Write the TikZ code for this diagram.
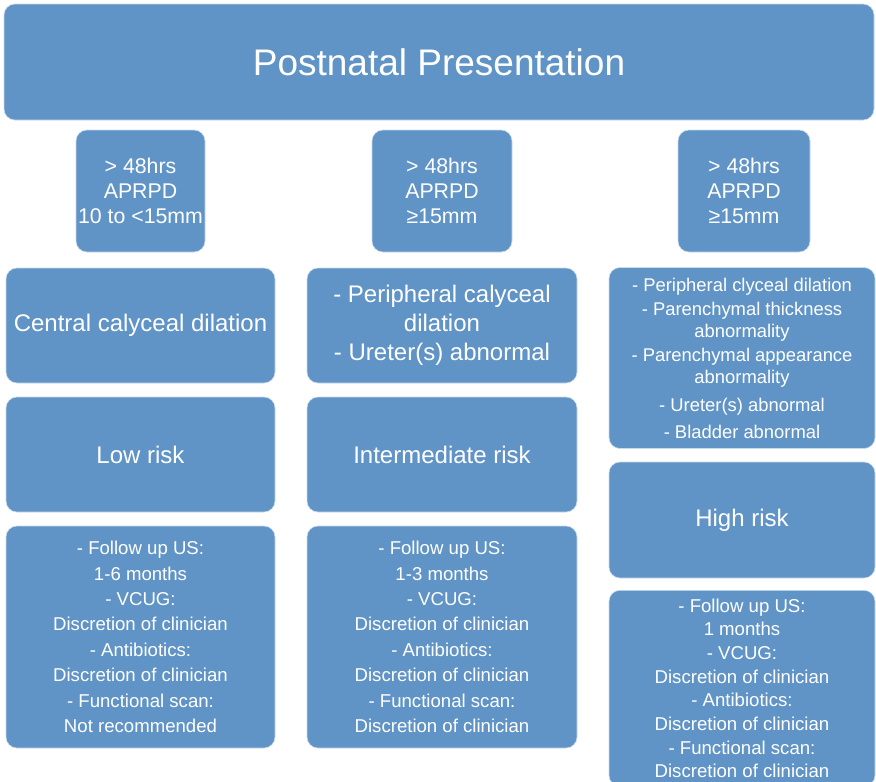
\documentclass[tikz,border=0pt]{standalone}
\usepackage{fontspec}
\setmainfont{Liberation Sans}
\definecolor{riskblue}{RGB}{96,148,198}
\definecolor{riskedge}{RGB}{200,218,236}
\usetikzlibrary{positioning}

\begin{document}
\begin{tikzpicture}[
        x=1pt, y=-1pt,
        box/.style={draw=riskedge, fill=riskblue, line width=0.6pt, rounded corners=11pt,
                    text=white, align=center, inner sep=2pt},
        titlebox/.style={box, minimum width=870pt, minimum height=116pt,
                    font=\fontsize{37}{44}\selectfont},
        critbox/.style={box, minimum height=122pt, font=\fontsize{21.3}{25}\selectfont},
        findbox/.style={box, minimum width=269pt, minimum height=115pt,
                    font=\fontsize{24}{29}\selectfont},
        riskbox/.style={findbox},
        planbox/.style={box, minimum width=269pt, minimum height=222pt,
                    font=\fontsize{18.6}{25.4}\selectfont}
      ]
        \clip (0,0) rectangle (876,782);
        \node[titlebox] (post) at (439,62) {Postnatal Presentation};
        \node[critbox, minimum width=129pt] (crit1) at (140.5,191) {> 48hrs\\APRPD\\10 to <15mm};
        \node[critbox, minimum width=140pt] (crit2) at (442,191) {> 48hrs\\APRPD\\≥15mm};
        \node[critbox, minimum width=132pt] (crit3) at (744,191) {> 48hrs\\APRPD\\≥15mm};
        \node[findbox] (find1) at (140.5,325.5) {Central calyceal dilation};
        \node[findbox, minimum width=270pt] (find2) at (442,325.5)
            {- Peripheral calyceal\\dilation\\- Ureter(s) abnormal};
        \node[box, minimum width=266pt, minimum height=181pt,
              font=\fontsize{18.4}{22}\selectfont] (find3) at (742,358)
            {- Peripheral clyceal dilation\\[2pt]- Parenchymal thickness\\abnormality\\[2pt]
             - Parenchymal appearance\\abnormality\\[6pt]- Ureter(s) abnormal\\[5pt]- Bladder abnormal};
        \node[riskbox] (low) at (140.5,454.5) {Low risk};
        \node[riskbox, minimum width=270pt] (inter) at (442,454.5) {Intermediate risk};
        \node[riskbox, minimum width=266pt, minimum height=116pt] (high) at (742,520) {High risk};
        \node[planbox] (plan1) at (140.5,637)
            {- Follow up US:\\1-6 months\\- VCUG:\\Discretion of clinician\\- Antibiotics:\\
             Discretion of clinician\\- Functional scan:\\Not recommended};
        \node[planbox, minimum width=270pt] (plan2) at (442,637)
            {- Follow up US:\\1-3 months\\- VCUG:\\Discretion of clinician\\- Antibiotics:\\
             Discretion of clinician\\- Functional scan:\\Discretion of clinician};
        \node[planbox, minimum width=266pt, minimum height=196pt, anchor=north, inner sep=1pt,
              font=\fontsize{18.6}{23.7}\selectfont] (plan3) at (742,590)
            {- Follow up US:\\1 months\\- VCUG:\\Discretion of clinician\\- Antibiotics:\\
             Discretion of clinician\\- Functional scan:\\Discretion of clinician};
      \end{tikzpicture}
\end{document}
